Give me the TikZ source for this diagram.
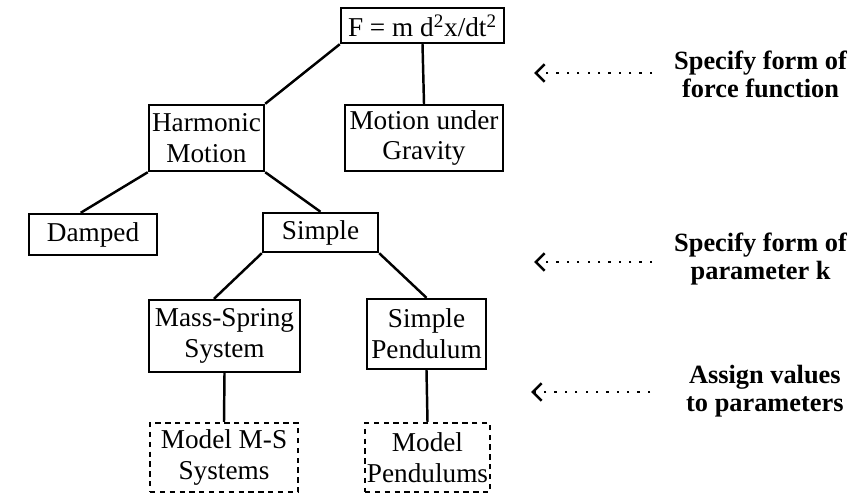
\documentclass[tikz,border=0pt]{standalone}
\usepackage{fontspec}
\setmainfont{Liberation Serif}
\usetikzlibrary{arrows.meta}

\begin{document}
\begin{tikzpicture}[x=0.02cm,y=-0.02cm,
  box/.style={draw,line width=1.4pt,inner sep=1pt,align=center,
    font=\fontsize{15.5}{17.6}\selectfont},
  modelbox/.style={box,dash pattern=on 3pt off 2.6pt},
  link/.style={line width=1.4pt},
  note/.style={align=center,font=\fontsize{15}{16}\selectfont\bfseries},
  pointer/.style={line width=1.3pt,dash pattern=on 1.3pt off 4.6pt,
    -{Straight Barb[length=5pt,width=10pt,line width=1.5pt]}}]
\useasboundingbox (0,0) rectangle (848,494);

% tree of model types
\node[box,minimum width=3.26cm,minimum height=0.7cm] (law) at (422.5,25.5)
  {F = m d\textsuperscript{2}x/dt\textsuperscript{2}};
\node[box,minimum width=2.3cm,minimum height=1.32cm] (harm) at (206.5,138) {Harmonic\\Motion};
\node[box,minimum width=3.16cm,minimum height=1.32cm] (grav) at (424,138) {Motion under\\Gravity};
\node[box,minimum width=2.56cm,minimum height=0.82cm] (damp) at (93,234.5) {Damped};
\node[box,minimum width=2.3cm,minimum height=0.78cm] (simp) at (320.5,232.5) {Simple};
\node[box,minimum width=3.02cm,minimum height=1.44cm] (spring) at (224.5,336) {Mass-Spring\\System};
\node[box,minimum width=2.38cm,minimum height=1.4cm] (pend) at (426.5,334) {Simple\\Pendulum};
\node[modelbox,minimum width=2.96cm,minimum height=1.38cm] (mspring) at (224,457.5) {Model M-S\\Systems};
\node[modelbox,minimum width=2.5cm,minimum height=1.38cm] (mpend) at (427.5,457.5) {Model\\Pendulums};

\draw[link] (law.south west) -- (harm.north east);
\draw[link] (law.south) -- (grav.north);
\draw[link] (harm.south west) -- ([xshift=-7]damp.north);
\draw[link] (harm.south east) -- (simp.north);
\draw[link] (simp.south west) -- ([xshift=-6]spring.north);
\draw[link] (simp.south east) -- (pend.north);
\draw[link] (spring.south) -- (mspring.north);
\draw[link] (pend.south) -- (mpend.north);

% steps on the right
\node[note,anchor=west] (force) at (668,74) {Specify form of\\force function};
\node[note,anchor=west] (param) at (668,259) {Specify form of\\parameter k};
\node[note,anchor=west] (values) at (680,391) {Assign values\\to parameters};

\coordinate (forcetip) at (534,73);
\coordinate (paramtip) at (534,262);
\coordinate (valuestip) at (531,392);
\draw[pointer] (forcetip -| 652,0) -- (forcetip);
\draw[pointer] (paramtip -| 652,0) -- (paramtip);
\draw[pointer] (valuestip -| 650,0) -- (valuestip);
\end{tikzpicture}
\end{document}
